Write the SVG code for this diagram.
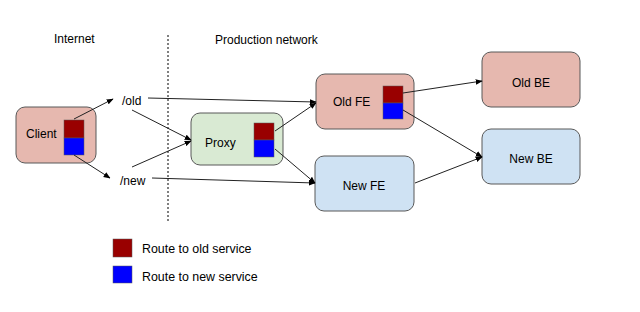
<svg xmlns="http://www.w3.org/2000/svg" width="640" height="312" viewBox="0 0 640 312">
<defs>
<style>
text{font-family:"Liberation Sans",Arial,sans-serif;font-size:12px;fill:#000}
.lg{font-size:12.4px}
.old{fill:#e6b8af;stroke:#595959;stroke-width:1}
.new{fill:#cfe2f3;stroke:#595959;stroke-width:1}
.px{fill:#d9ead3;stroke:#595959;stroke-width:1}
.r{fill:#990000;stroke:#595959;stroke-width:0.5}
.b{fill:#0000ff;stroke:#595959;stroke-width:0.5}
.c line{stroke:#222;stroke-width:1;marker-end:url(#ah)}
</style>
<marker id="ah" viewBox="0 0 10 10" refX="9" refY="5" markerWidth="7" markerHeight="7" markerUnits="userSpaceOnUse" orient="auto">
<path d="M0,1 L10,5 L0,9 z" fill="#000"/>
</marker>
</defs>
<rect width="640" height="312" fill="#fff"/>
<g id="headers">
<text x="54" y="43">Internet</text>
<text x="215" y="44">Production network</text>
<line x1="168" y1="35" x2="168" y2="222" stroke="#000" stroke-width="1" stroke-dasharray="2,2"/>
</g>
<g id="client">
<rect class="old" x="16" y="107" width="80" height="56" rx="9"/>
<text x="26" y="138">Client</text>
<rect class="r" x="64" y="120" width="20" height="18"/>
<rect class="b" x="64" y="138" width="20" height="17"/>
</g>
<g id="old-label"><text x="122" y="105">/old</text></g>
<g id="new-label"><text x="120" y="185">/new</text></g>
<g id="proxy">
<rect class="px" x="191" y="113" width="92" height="52" rx="9"/>
<text x="205" y="147">Proxy</text>
<rect class="r" x="254" y="123" width="20" height="17"/>
<rect class="b" x="254" y="140" width="20" height="17"/>
</g>
<g id="old-fe">
<rect class="old" x="316" y="74" width="98" height="55" rx="9"/>
<text x="333" y="106">Old FE</text>
<rect class="r" x="383" y="86" width="20" height="17"/>
<rect class="b" x="383" y="103" width="20" height="16"/>
</g>
<g id="new-fe">
<rect class="new" x="315" y="156" width="99" height="55" rx="9"/>
<text x="364" y="190" text-anchor="middle">New FE</text>
</g>
<g id="old-be">
<rect class="old" x="482" y="52" width="98" height="55" rx="9"/>
<text x="531" y="87" text-anchor="middle">Old BE</text>
</g>
<g id="new-be">
<rect class="new" x="482" y="129" width="98" height="55" rx="9"/>
<text x="531" y="163" text-anchor="middle">New BE</text>
</g>
<g id="connectors" class="c">
<line x1="74" y1="119" x2="113" y2="99"/>
<line x1="74" y1="155" x2="110" y2="178"/>
<line x1="132" y1="110" x2="191" y2="140"/>
<line x1="132" y1="167" x2="191" y2="141"/>
<line x1="148" y1="98" x2="316" y2="102"/>
<line x1="152" y1="178" x2="315" y2="183"/>
<line x1="275" y1="131" x2="316" y2="103"/>
<line x1="275" y1="149" x2="315" y2="183"/>
<line x1="403" y1="93" x2="482" y2="81"/>
<line x1="403" y1="110" x2="482" y2="157"/>
<line x1="415" y1="183" x2="482" y2="157"/>
</g>
<g id="legend">
<rect class="r" x="113" y="239" width="19" height="18"/>
<text class="lg" x="142" y="253">Route to old service</text>
<rect class="b" x="113" y="266" width="19" height="17"/>
<text class="lg" x="142" y="281">Route to new service</text>
</g>
</svg>
